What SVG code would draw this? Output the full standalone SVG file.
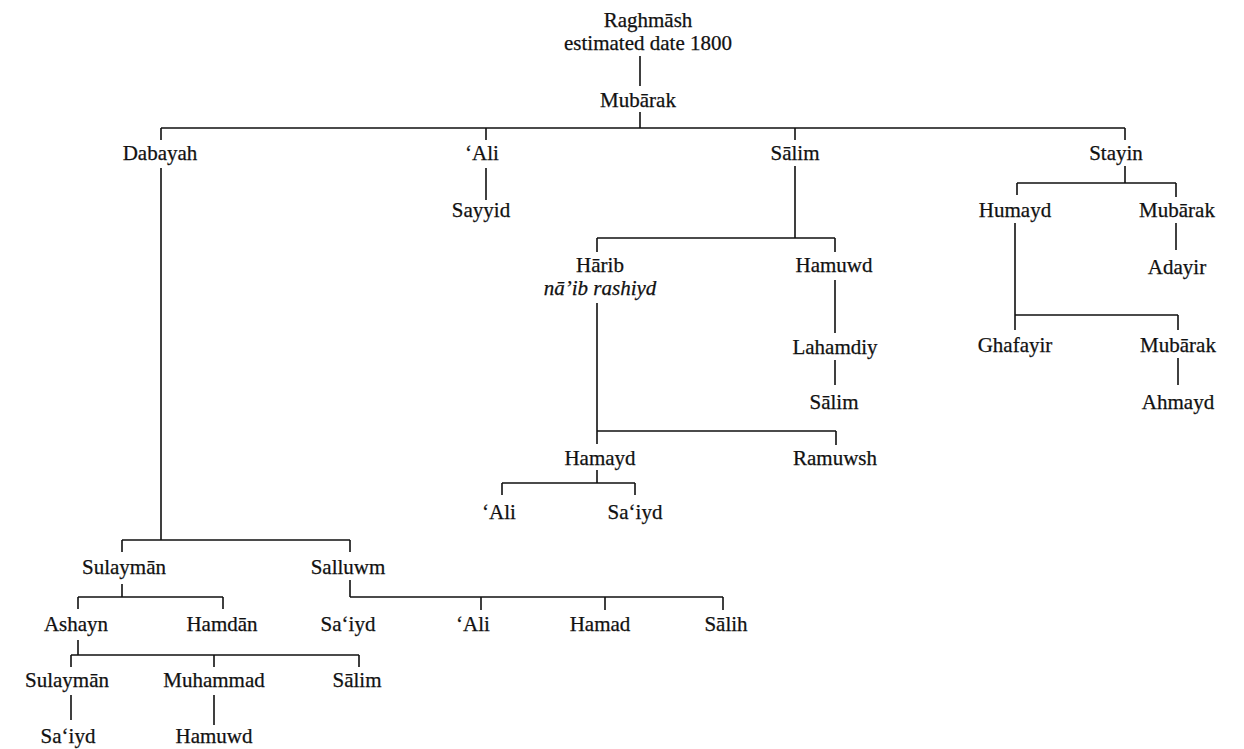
<svg xmlns="http://www.w3.org/2000/svg" width="1244" height="749" viewBox="0 0 1244 749">
<style>
text{font-family:'Liberation Serif','DejaVu Serif',serif;font-size:21px;fill:#111;stroke:#111;stroke-width:0.25;text-anchor:middle}
.it{font-style:italic}
#connectors path{fill:none;stroke:#111;stroke-width:1.6}
</style>
<rect width="1244" height="749" fill="#fff"/>
<g id="connectors">
<path d="M640 56V86M640 112V128M161 128H1125M161 128V140M486 128V140M795 128V140M1125 128V140"/>
<path d="M486 168V200"/>
<path d="M161 168V540M122 540H350M122 540V552M350 540V552"/>
<path d="M795 166V238M597 238H835M597 238V252M835 238V252"/>
<path d="M835 280V333M835 360V385"/>
<path d="M597 303V444M597 431H836M836 431V445"/>
<path d="M597 470V483M502 483H635M502 483V495M635 483V495"/>
<path d="M1125 166V183M1017 183H1176M1017 183V195M1176 183V197"/>
<path d="M1176 223V250"/>
<path d="M1015 223V330M1015 315H1178M1178 315V330"/>
<path d="M1178 358V385"/>
<path d="M122 584V597M78 597H223M78 597V609M223 597V609"/>
<path d="M350 580V597M350 597H723M481 597V610M605 597V610M723 597V610"/>
<path d="M78 640V655M71 655H359M71 655V667M214 655V667M359 655V667"/>
<path d="M71 695V720M214 695V725"/>
</g>
<g id="n_raghmash"><text x="648" y="27">Raghmāsh</text><text x="648" y="50">estimated date 1800</text></g>
<g id="n_mubarak"><text x="638" y="107">Mubārak</text></g>
<g id="n_dabayah"><text x="160" y="160">Dabayah</text></g>
<g id="n_ali1"><text x="482" y="160">‘Ali</text></g>
<g id="n_salim1"><text x="795" y="160">Sālim</text></g>
<g id="n_stayin"><text x="1116" y="160">Stayin</text></g>
<g id="n_sayyid"><text x="481" y="217">Sayyid</text></g>
<g id="n_harib"><text x="600" y="272">Hārib</text><text class="it" x="600" y="295">nā’ib rashiyd</text></g>
<g id="n_hamuwd1"><text x="834" y="272">Hamuwd</text></g>
<g id="n_lahamdiy"><text x="835" y="354">Lahamdiy</text></g>
<g id="n_salim2"><text x="834" y="409">Sālim</text></g>
<g id="n_hamayd"><text x="600" y="465">Hamayd</text></g>
<g id="n_ramuwsh"><text x="835" y="465">Ramuwsh</text></g>
<g id="n_ali2"><text x="499" y="519">‘Ali</text></g>
<g id="n_saiyd1"><text x="635" y="519">Sa‘iyd</text></g>
<g id="n_humayd"><text x="1015" y="217">Humayd</text></g>
<g id="n_mubarak2"><text x="1177" y="217">Mubārak</text></g>
<g id="n_adayir"><text x="1177" y="274">Adayir</text></g>
<g id="n_ghafayir"><text x="1015" y="352">Ghafayir</text></g>
<g id="n_mubarak3"><text x="1178" y="352">Mubārak</text></g>
<g id="n_ahmayd"><text x="1178" y="409">Ahmayd</text></g>
<g id="n_sulayman1"><text x="124" y="574">Sulaymān</text></g>
<g id="n_salluwm"><text x="348" y="574">Salluwm</text></g>
<g id="n_ashayn"><text x="76" y="631">Ashayn</text></g>
<g id="n_hamdan"><text x="222" y="631">Hamdān</text></g>
<g id="n_saiyd2"><text x="348" y="631">Sa‘iyd</text></g>
<g id="n_ali3"><text x="473" y="631">‘Ali</text></g>
<g id="n_hamad"><text x="600" y="631">Hamad</text></g>
<g id="n_salih"><text x="726" y="631">Sālih</text></g>
<g id="n_sulayman2"><text x="67" y="687">Sulaymān</text></g>
<g id="n_muhammad"><text x="214" y="687">Muhammad</text></g>
<g id="n_salim3"><text x="357" y="687">Sālim</text></g>
<g id="n_saiyd3"><text x="68" y="743">Sa‘iyd</text></g>
<g id="n_hamuwd2"><text x="214" y="743">Hamuwd</text></g>
</svg>
